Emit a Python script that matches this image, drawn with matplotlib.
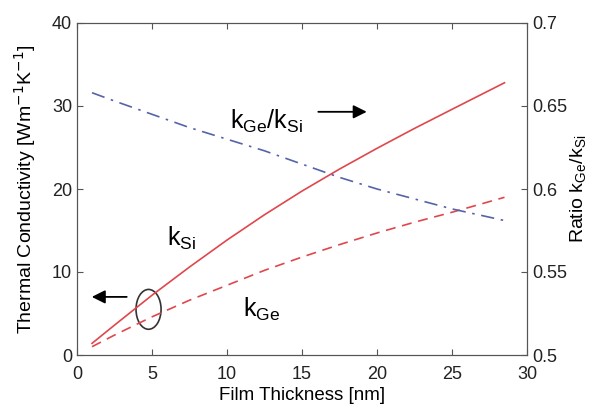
import matplotlib
matplotlib.use('Agg')
import matplotlib.pyplot as plt
from matplotlib.patches import Ellipse

plt.rcParams['font.family'] = ['Liberation Sans', 'DejaVu Sans']

# values
thickness = [1, 2.5, 5, 7.5, 10, 12.5, 15, 17.5, 20, 22.5, 25, 28.5]
k_si = [1.4, 3.6, 7.2, 10.6, 13.85, 16.9, 19.75, 22.4, 24.9, 27.3, 29.6, 32.8]
k_ge = [1.0, 2.4, 4.6, 6.6, 8.4, 10.2, 11.8, 13.3, 14.7, 16.0, 17.2, 19.0]
ratio = [0.658, 0.653, 0.645, 0.637, 0.630, 0.623, 0.615, 0.607, 0.600, 0.594, 0.588, 0.581]

red = '#e0474c'
blue = '#5563a8'
axcol = '#555555'

fig = plt.figure(figsize=(6.07, 4.11), dpi=100)
ax = fig.add_axes([77/607, 56/411, 450/607, 332/411])
ax2 = ax.twinx()

ax.plot(thickness, k_si, color=red, lw=1.2)
ax.plot(thickness, k_ge, color=red, lw=1.2, ls=(0, (6, 4)))
ax2.plot(thickness, ratio, color=blue, lw=1.2, ls=(0, (8, 4, 1.5, 4)))

ax.set_xlim(0, 30)
ax.set_ylim(0, 40)
ax2.set_ylim(0.5, 0.7)
ax.set_xticks([0, 5, 10, 15, 20, 25, 30])
ax.set_yticks([0, 10, 20, 30, 40])
ax2.set_yticks([0.5, 0.55, 0.6, 0.65, 0.7])
ax2.set_yticklabels(['0.5', '0.55', '0.6', '0.65', '0.7'])

ax.tick_params(direction='in', top=True, labelsize=13, colors=axcol, labelcolor='#222222', length=4)
ax.tick_params(axis='x', pad=8)
ax.tick_params(axis='y', right=False)
ax2.tick_params(direction='in', labelsize=13, colors=axcol, labelcolor='#222222', length=4)
for a in (ax, ax2):
    for s in a.spines.values():
        s.set_color(axcol)

ax.set_xlabel('Film Thickness [nm]', fontsize=13.5, labelpad=3)
ax.set_ylabel('Thermal Conductivity [Wm$^{-1}$K$^{-1}$]', fontsize=14, labelpad=10)
ax2.set_ylabel('Ratio k$_{\\mathregular{Ge}}$/k$_{\\mathregular{Si}}$', fontsize=14, labelpad=1)

ax.text(7.0, 14.1, 'k$_{\\mathregular{Si}}$', fontsize=18, ha='center', va='center')
ax.text(12.3, 5.5, 'k$_{\\mathregular{Ge}}$', fontsize=18, ha='center', va='center')
ax.text(12.6, 28.2, 'k$_{\\mathregular{Ge}}$/k$_{\\mathregular{Si}}$', fontsize=18, ha='center', va='center')

ax.annotate('', xy=(19.5, 29.3), xytext=(15.9, 29.3),
            arrowprops=dict(arrowstyle='-|>', color='black', lw=1.3, mutation_scale=20))
ax.annotate('', xy=(0.8, 7.0), xytext=(3.5, 7.0),
            arrowprops=dict(arrowstyle='-|>', color='black', lw=1.3, mutation_scale=20))
ax.add_patch(Ellipse((4.77, 5.5), 1.67, 4.8, fill=False, edgecolor='#333333', lw=1.2))

fig.savefig('out.png', dpi=100)
